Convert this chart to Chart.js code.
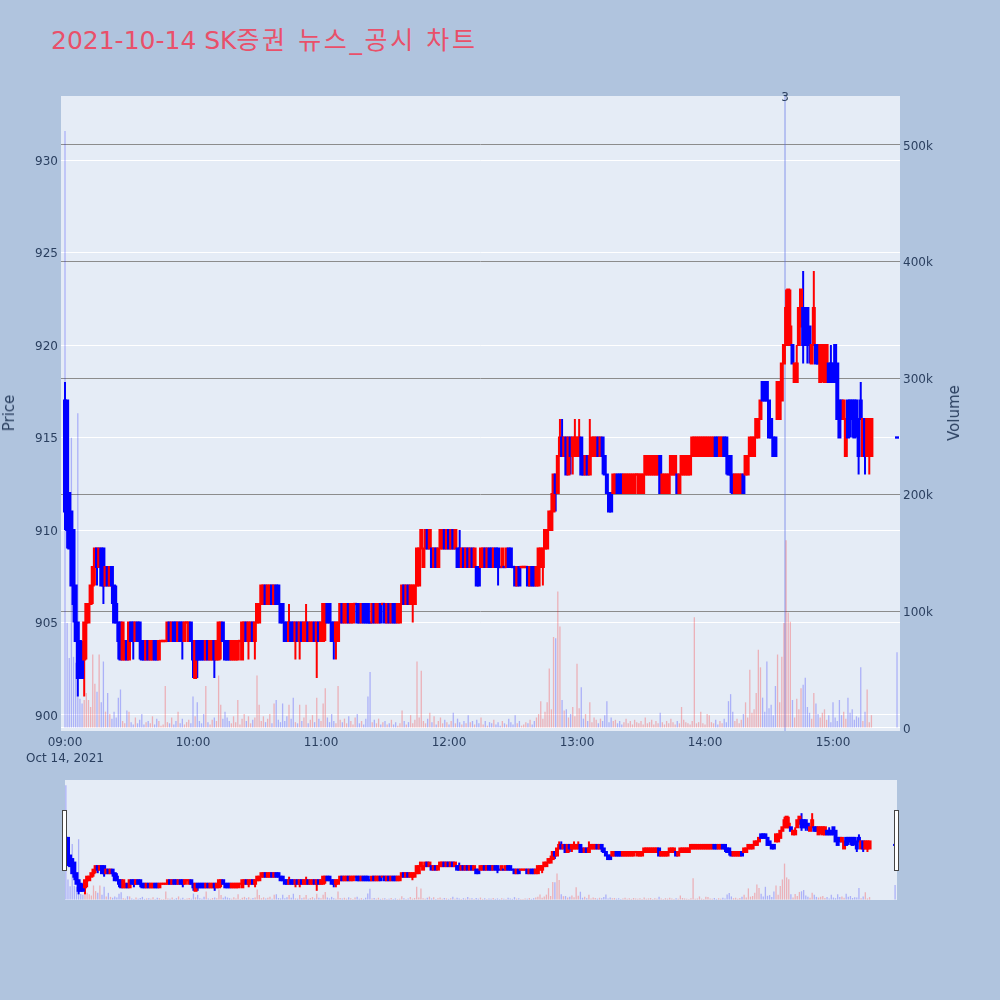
<!DOCTYPE html>
<html>
<head>
<meta charset="utf-8">
<script src="https://cdn.jsdelivr.net/npm/chart.js@4.4.1/dist/chart.umd.min.js"></script>
<style>
  html, body { margin:0; padding:0; width:1000px; height:1000px; overflow:hidden; background:#b0c4de;
    font-family:"DejaVu Sans","Noto Sans CJK KR",sans-serif; }
  #title { position:absolute; left:51px; top:26px; font-size:25px; line-height:30px; color:#e9506a; white-space:nowrap; }
  #title .ko { letter-spacing:2.6px; }
  #main { position:absolute; left:0; top:0; }
  #slider { position:absolute; left:65px; top:780px; }
  .axtitle { position:absolute; font-size:15px; color:#2a3f5f; white-space:nowrap;
    transform:translate(-50%,-50%) rotate(-90deg); }
  .handle { position:absolute; top:810px; width:3px; height:59px; background:#ffffff; border:1px solid #444444; }
</style>
</head>
<body>
<div id="title">2021-10-14 SK<span class="ko">증권 뉴스_공시 차트</span></div>
<canvas id="main" width="1000" height="780"></canvas>
<canvas id="slider" width="832" height="120"></canvas>
<div class="axtitle" style="left:9px; top:413px;">Price</div>
<div class="axtitle" style="left:954px; top:413px;">Volume</div>
<div class="handle" style="left:62px;"></div>
<div class="handle" style="left:894px;"></div>
<script>
// ---------- data (1-minute candles, 09:00 = minute 0; last entry = 15:30 closing auction) ----------
const opens = [
917,917,912,911,910,907,905,904,903,903, 905,905,906,907,908,909,908,909,909,907,
908,907,908,907,906,905,905,903,903,904, 903,905,905,904,905,905,904,904,903,904,
903,903,904,904,903,904,904,904,904,905, 904,905,905,904,905,905,904,905,904,905,
904,902,904,904,904,904,903,904,903,903, 904,903,903,904,905,904,904,904,903,903,
903,903,904,903,904,905,904,904,905,904, 905,905,906,906,907,906,906,907,906,907,
907,906,906,905,905,904,905,905,904,905, 904,905,904,904,905,904,904,905,904,905,
904,904,905,906,906,905,905,904,904,905, 906,905,905,906,905,905,906,906,906,905,
906,906,906,905,905,906,905,905,906,906, 906,905,906,905,906,906,905,905,906,907,
906,907,906,906,906,907,907,909,908,909, 910,909,909,908,909,908,909,909,910,909,
910,909,910,909,909,909,908,909,908,909, 908,909,908,908,908,908,908,909,908,909,
909,908,909,909,908,908,908,908,909,909, 908,908,907,908,908,908,908,908,907,908,
908,907,907,908,908,909,909,910,910,911, 913,912,914,915,914,915,913,915,914,914,
914,914,915,914,913,914,913,914,914,914, 915,914,915,914,913,912,912,912,912,913,
913,913,912,912,912,912,912,912,913,912, 912,912,913,913,913,913,913,913,913,914,
912,912,912,912,913,913,913,913,912,913, 913,913,913,913,914,914,914,914,914,914,
914,914,914,914,914,915,915,914,914,915, 915,914,914,913,912,912,912,912,913,913,
913,914,914,914,915,915,916,918,918,918, 917,916,915,915,916,916,917,919,920,920,
920,920,918,918,920,921,922,922,922,921, 919,920,920,920,918,919,918,918,919,919,
919,920,919,917,917,916,914,917,917,917, 917,917,916,917,914,916,914,914,914,
915];
const highs = [
918,917,912,911,910,907,905,904,904,905, 906,906,907,908,909,909,909,909,909,908,
908,908,908,907,907,905,905,905,904,904, 905,905,905,905,905,905,904,904,904,904,
904,904,904,904,904,904,904,904,905,905, 905,905,905,905,905,905,905,905,905,905,
904,904,904,904,904,904,904,904,904,904, 904,904,905,905,905,904,904,904,904,904,
904,904,904,905,905,905,905,905,905,905, 906,906,907,907,907,907,907,907,907,907,
907,906,906,905,905,906,905,905,905,905, 905,905,905,906,905,905,905,905,905,905,
905,906,906,906,906,905,905,905,905,906, 906,906,906,906,906,906,906,906,906,906,
906,906,906,905,906,906,906,906,906,906, 906,906,906,906,906,906,906,906,907,907,
907,907,907,907,907,909,909,910,909,910, 910,910,909,909,909,909,910,910,910,910,
910,910,910,910,909,910,909,909,909,909, 909,909,909,908,908,909,909,909,909,909,
909,909,909,909,908,909,908,909,909,909, 908,908,908,908,908,908,908,908,908,908,
908,908,909,909,909,910,910,911,912,913, 913,914,916,916,915,915,915,915,915,916,
915,916,915,914,914,914,916,915,915,915, 915,915,915,914,913,912,912,913,913,913,
913,913,913,913,913,913,913,913,913,913, 913,913,914,914,914,914,914,914,914,914,
913,913,913,913,914,914,914,913,913,914, 914,914,914,914,915,915,915,915,915,915,
915,915,915,915,915,915,915,915,915,915, 915,914,914,913,913,913,913,913,913,914,
914,915,915,915,916,916,917,918,918,918, 917,916,915,915,918,918,919,920,923,923,
923,920,919,920,922,923,924,922,922,921, 920,924,920,920,920,920,920,920,919,920,
919,920,919,917,917,917,916,917,917,917, 917,917,916,918,916,916,916,916,916,
915];
const lows = [
910,909,909,907,905,904,901,902,902,901, 903,905,906,906,907,907,908,907,906,907,
907,907,906,905,905,903,903,903,903,903, 903,904,903,904,904,903,903,903,903,903,
903,903,903,903,903,904,904,904,904,904, 904,904,904,904,904,903,904,905,904,904,
902,902,902,903,903,903,903,903,903,903, 902,903,903,903,904,903,903,903,903,903,
903,903,904,903,904,904,903,904,904,903, 905,905,906,906,906,906,906,906,906,906,
906,905,905,904,904,904,904,904,903,904, 903,904,904,904,904,904,904,904,902,904,
904,904,904,905,905,904,903,903,904,905, 905,905,905,905,905,905,906,905,905,905,
905,905,905,905,905,905,905,905,905,906, 905,905,905,905,905,905,905,905,906,906,
906,906,906,905,906,907,907,909,908,909, 909,909,908,908,908,908,909,909,909,909,
909,909,909,909,908,908,908,908,908,908, 908,908,908,907,907,908,908,908,908,908,
908,908,908,907,908,908,908,908,908,908, 908,907,907,907,908,908,908,907,907,907,
907,907,907,908,907,909,909,910,910,911, 911,912,914,914,914,913,913,913,913,914,
914,914,913,913,913,913,913,914,914,914, 914,914,913,913,912,911,911,912,912,912,
912,912,912,912,912,912,912,912,913,912, 912,912,913,913,913,913,913,913,913,912,
912,912,912,912,913,913,913,912,912,913, 913,913,913,913,914,914,914,914,914,914,
914,914,914,914,914,914,914,914,914,914, 913,913,912,912,912,912,912,912,912,913,
913,914,914,914,915,915,916,917,917,917, 915,915,914,914,916,916,917,919,920,920,
920,919,918,918,920,921,919,920,919,919, 919,920,919,919,918,918,918,918,918,918,
918,918,916,915,916,916,914,915,915,915, 915,915,913,916,914,913,914,913,914,
915];
const closes = [
911,910,909,907,906,904,902,902,902,905, 906,906,907,908,909,908,909,907,907,908,
907,908,907,905,905,904,903,905,904,903, 905,904,904,905,904,904,903,903,904,903,
904,904,903,903,904,904,904,904,905,904, 905,904,904,905,904,904,905,905,905,904,
903,904,903,903,903,903,904,903,904,904, 903,904,905,905,904,903,903,903,904,904,
904,904,904,905,905,904,905,905,904,905, 906,906,907,907,906,907,907,906,907,906,
906,905,905,904,904,905,904,904,905,904, 905,904,905,905,904,905,905,904,905,904,
905,906,906,905,905,904,904,905,905,906, 905,906,906,905,906,906,906,905,905,906,
905,905,905,905,906,905,906,906,905,906, 905,906,905,906,905,905,906,906,907,906,
907,906,907,907,907,909,909,910,909,910, 909,910,908,909,908,909,910,910,909,910,
909,910,909,910,908,908,909,908,909,908, 909,908,909,907,907,909,909,908,909,908,
908,909,908,908,908,909,908,909,908,908, 908,907,908,907,908,908,908,907,908,907,
907,908,909,909,909,910,910,911,911,913, 912,914,915,914,915,913,915,914,915,915,
915,915,913,913,914,913,914,915,915,915, 914,915,914,913,912,911,911,913,913,912,
912,912,913,913,913,913,913,913,913,913, 913,913,914,914,914,914,914,914,914,912,
913,913,913,913,914,914,914,912,913,914, 914,914,914,914,915,915,915,915,915,915,
915,915,915,915,915,914,914,915,915,914, 914,913,913,912,913,913,913,913,912,914,
914,915,915,915,916,916,917,917,917,917, 915,915,914,914,918,918,919,920,922,923,
921,919,919,919,922,923,920,920,920,920, 920,922,919,919,920,920,920,920,918,918,
918,918,916,915,916,917,916,915,916,916, 915,916,914,916,916,914,916,916,916,
915];
// volume in thousands of shares
const volumesK = [
512,90,60,249,61,56,270,25,21,24, 30,24,18,63,38,31,63,22,57,14,
30,12,8,14,9,26,33,6,4,15, 14,5,3,9,4,7,12,3,5,6,
4,10,3,8,6,2,3,36,5,4, 9,3,6,14,4,8,3,5,7,4,
27,10,22,6,4,12,36,5,3,7, 9,6,45,20,8,14,9,6,4,10,
5,24,3,8,12,6,10,4,7,9, 45,20,6,10,5,8,12,4,21,24,
7,5,21,6,10,20,8,26,5,4, 20,6,9,20,4,7,11,5,26,8,
6,21,34,9,5,12,6,4,36,7, 5,8,4,10,6,3,9,12,4,6,
3,8,27,48,5,7,4,8,3,5, 6,3,4,7,3,5,2,4,15,6,
3,5,11,4,7,57,9,49,6,4, 8,13,5,10,3,6,9,4,7,5,
3,6,13,4,8,5,3,6,4,11, 5,6,3,7,4,9,3,6,2,5,
4,7,3,5,2,6,4,3,8,5, 3,11,4,6,2,3,5,4,7,3,
6,9,12,23,8,14,22,51,16,78, 77,117,87,24,15,16,9,12,18,10,
55,17,35,8,12,6,22,5,9,7, 4,8,6,11,23,5,9,6,7,4,
6,3,5,8,4,6,3,7,5,4, 6,3,9,4,5,7,3,6,4,13,
5,3,6,4,8,5,3,6,4,18, 7,5,4,3,6,95,4,5,14,4,
3,12,11,5,4,7,3,6,4,8, 5,23,29,14,6,8,4,7,12,22,
9,50,13,16,30,67,52,26,14,57, 17,20,11,36,63,22,61,90,161,99,
91,24,9,25,16,34,37,43,18,13, 8,30,21,12,9,13,16,7,11,5,
22,9,6,24,11,14,8,26,13,16, 7,10,9,52,6,14,33,5,11,
65];
// minutes after 09:00: regular session 0..378, then the 15:30 closing auction
const minutes = [...Array(379).keys(), 390];

const tickMinutes = [0, 60, 120, 180, 240, 300, 360];
const timeLabels = ['09:00', '10:00', '11:00', '12:00', '13:00', '14:00', '15:00'];
const dateLabel = 'Oct 14, 2021';
const priceTicks = [900, 905, 910, 915, 920, 925, 930];
const volumeTicksK = [0, 100, 200, 300, 400, 500];
const volumeTickLabels = ['0', '100k', '200k', '300k', '400k', '500k'];
const newsMinutes = [337.5];
const newsLabels = ['3'];

// ---------- styling ----------
const FONT = '"DejaVu Sans","Noto Sans CJK KR",sans-serif';
const INK = '#2a3f5f';
const UP = '#ff0000', DOWN = '#0000ff';
const UPV = 'rgba(255,0,0,0.25)', DOWNV = 'rgba(0,0,255,0.25)';

// candle direction (ties fall back to previous close / previous direction)
const ups = (() => {
  let prevC = null, prevUp = true;
  return opens.map((o, i) => {
    const c = closes[i];
    let up;
    if (c > o) up = true;
    else if (c < o) up = false;
    else if (prevC !== null && c > prevC) up = true;
    else if (prevC !== null && c < prevC) up = false;
    else up = prevUp;
    prevC = c; prevUp = up;
    return up;
  });
})();

function buildDatasets(bodyW, wickW, volW) {
  const vol = {
    type: 'bar', yAxisID: 'y2', order: 3, grouped: false, barThickness: volW, inflateAmount: 0,
    data: minutes.map((m, i) => ({ x: m, y: volumesK[i] })),
    backgroundColor: ups.map(u => u ? UPV : DOWNV)
  };
  const wick = {
    type: 'bar', yAxisID: 'y', order: 2, grouped: false, barThickness: wickW, inflateAmount: 0,
    data: minutes.map((m, i) => ({ x: m, y: [lows[i], highs[i]] })),
    backgroundColor: ups.map(u => u ? UP : DOWN)
  };
  // body is inflated by 1px on every side, like a 2px candle outline
  const body = {
    type: 'bar', yAxisID: 'y', order: 1, grouped: false, barThickness: bodyW, inflateAmount: 1,
    data: minutes.map((m, i) => {
      const a = Math.min(opens[i], closes[i]), b = Math.max(opens[i], closes[i]);
      return { x: m, y: a === b ? [a - 0.01, b + 0.01] : [a, b] };
    }),
    backgroundColor: ups.map(u => u ? UP : DOWN)
  };
  return [vol, wick, body];
}

const bgPlugin = {
  id: 'plotbg',
  beforeDraw(chart) {
    const { ctx, chartArea: a } = chart;
    ctx.save();
    ctx.fillStyle = '#e5ecf6';
    ctx.fillRect(a.left, a.top, a.right - a.left, a.bottom - a.top);
    ctx.restore();
  }
};

const newsPlugin = {
  id: 'news',
  beforeDatasetsDraw(chart) {
    const { ctx, chartArea: a } = chart;
    const xs = chart.scales.x;
    ctx.save();
    newsMinutes.forEach((m) => {
      const x = xs.getPixelForValue(m);
      ctx.strokeStyle = 'rgba(90,110,230,0.45)';
      ctx.lineWidth = 1.5;
      ctx.beginPath();
      ctx.moveTo(x, a.top);
      ctx.lineTo(x, a.bottom);
      ctx.stroke();
    });
    ctx.restore();
  },
  afterDatasetsDraw(chart) {
    const { ctx, chartArea: a } = chart;
    const xs = chart.scales.x;
    ctx.save();
    ctx.font = '12px ' + FONT;
    ctx.fillStyle = INK;
    ctx.textAlign = 'center';
    ctx.textBaseline = 'alphabetic';
    newsMinutes.forEach((m, i) => {
      ctx.fillText(newsLabels[i], xs.getPixelForValue(m), a.top + 5);
    });
    ctx.restore();
  }
};

Chart.defaults.font.family = FONT;

new Chart(document.getElementById('main'), {
  type: 'bar',
  data: { datasets: buildDatasets(2, 2, 1.3) },
  plugins: [bgPlugin, newsPlugin],
  options: {
    responsive: false, animation: false, events: [],
    layout: { padding: { left: 0, right: 35, top: 96, bottom: 0 } },
    plugins: { legend: { display: false }, tooltip: { enabled: false } },
    scales: {
      x: {
        type: 'linear', min: -1.875, max: 391.4, offset: false,
        grid: { display: false, drawTicks: false }, border: { display: false },
        afterBuildTicks: (s) => { s.ticks = tickMinutes.map(v => ({ value: v })); },
        afterFit: (s) => { s.height = 49; },
        ticks: {
          autoSkip: false, maxRotation: 0, padding: 4, color: INK,
          font: { family: FONT, size: 12, lineHeight: 1.3 },
          callback: (v) => {
            const i = tickMinutes.indexOf(v);
            return i === 0 ? [timeLabels[i], dateLabel] : timeLabels[i];
          }
        }
      },
      y: {
        position: 'left', min: 899.135, max: 933.46,
        grid: { color: '#ffffff', lineWidth: 1, drawTicks: false }, border: { display: false },
        afterBuildTicks: (s) => { s.ticks = priceTicks.map(v => ({ value: v })); },
        afterFit: (s) => { s.width = 61; },
        ticks: { padding: 3, labelOffset: 1.5, color: INK, font: { family: FONT, size: 12 }, callback: (v) => String(v) }
      },
      y2: {
        position: 'right', min: -2.6, max: 542,
        grid: { color: (c) => c.tick && c.tick.value === 0 ? '#ffffff' : '#8c8c8c', lineWidth: 1, drawTicks: false },
        border: { display: false },
        afterBuildTicks: (s) => { s.ticks = volumeTicksK.map(v => ({ value: v })); },
        afterFit: (s) => { s.width = 65; },
        ticks: {
          padding: 3, labelOffset: 1.5, color: INK, font: { family: FONT, size: 12 },
          callback: (v) => volumeTickLabels[volumeTicksK.indexOf(v)]
        }
      }
    }
  }
});

new Chart(document.getElementById('slider'), {
  type: 'bar',
  data: { datasets: buildDatasets(2, 2, 1.3) },
  plugins: [bgPlugin],
  options: {
    responsive: false, animation: false, events: [],
    layout: { padding: 0 },
    plugins: { legend: { display: false }, tooltip: { enabled: false } },
    scales: {
      x: { type: 'linear', min: -0.4, max: 390.9, offset: false, display: false },
      y: { min: 899.4, max: 933.4, display: false },
      y2: { min: -2, max: 535, display: false, position: 'right' }
    }
  }
});
</script>
</body>
</html>
